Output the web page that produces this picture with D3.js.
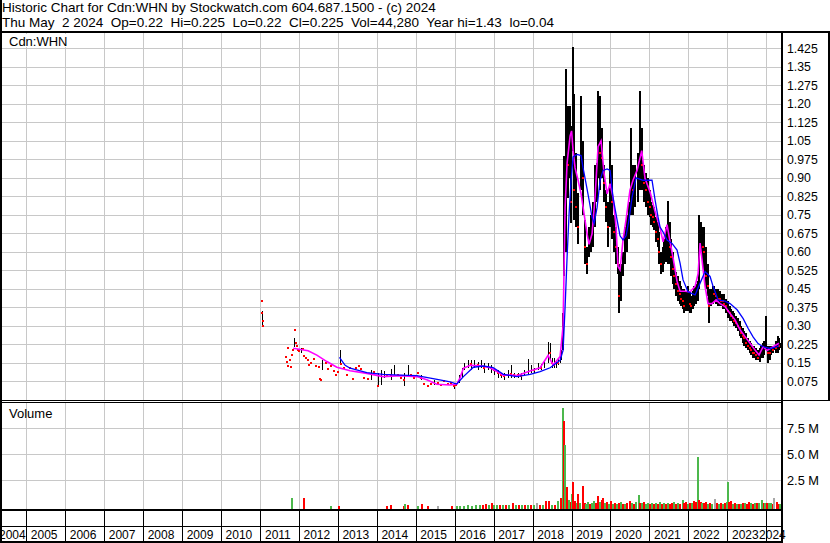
<!DOCTYPE html>
<html><head><meta charset="utf-8">
<script src="https://cdn.jsdelivr.net/npm/d3@7"></script>
<style>
body{margin:0;background:#fff}
svg{display:block;font-family:"Liberation Sans",Arial,sans-serif}
</style>
</head><body>
<svg id="c" width="830" height="543"></svg>
<script>
// ---------------- DATA ----------------
const headerLines = [
  "Historic Chart for Cdn:WHN by Stockwatch.com 604.687.1500 - (c) 2024",
  "Thu May  2 2024  Op=0.22  Hi=0.225  Lo=0.22  Cl=0.225  Vol=44,280  Year hi=1.43  lo=0.04"
];
const symbolLabel = "Cdn:WHN";
const volumeLabel = "Volume";
const priceTicks = [1.425,1.35,1.275,1.20,1.125,1.05,0.975,0.90,0.825,0.75,0.675,0.60,0.525,0.45,0.375,0.30,0.225,0.15,0.075];
const priceTickLabels = ["1.425","1.35","1.275","1.20","1.125","1.05","0.975","0.90","0.825","0.75","0.675","0.60","0.525","0.45","0.375","0.30","0.225","0.15","0.075"];
const volTicks = [7.5,5.0,2.5];
const volTickLabels = ["7.5 M","5.0 M","2.5 M"];
const yearLabels = [2004,2005,2006,2007,2008,2009,2010,2011,2012,2013,2014,2015,2016,2017,2018,2019,2020,2021,2022,2023,2024];

// price bars: [decimal year, high, low, close]
const priceBars = [
[2011.03,0.40,0.40,0.40],[2011.04,0.36,0.30,0.35],[2011.05,0.32,0.32,0.32],[2011.06,0.30,0.30,0.30],
[2011.648,0.175,0.175,0.175],[2011.674,0.155,0.155,0.155],[2011.687,0.21,0.21,0.21],[2011.70,0.137,0.137,0.137],
[2011.75,0.162,0.162,0.162],[2011.776,0.134,0.134,0.134],[2011.795,0.181,0.181,0.181],[2011.82,0.20,0.20,0.20],
[2011.861,0.25,0.215,0.23],[2011.887,0.283,0.283,0.283],[2011.905,0.229,0.229,0.229],[2011.93,0.22,0.22,0.22],
[2011.948,0.202,0.202,0.202],[2011.99,0.199,0.199,0.199],
[2012.033,0.21,0.19,0.20],[2012.084,0.205,0.205,0.205],[2012.11,0.178,0.178,0.178],[2012.161,0.17,0.17,0.17],
[2012.205,0.16,0.16,0.16],[2012.238,0.14,0.14,0.14],[2012.29,0.15,0.15,0.15],[2012.367,0.165,0.165,0.165],
[2012.418,0.137,0.137,0.137],[2012.495,0.132,0.132,0.132],[2012.52,0.084,0.084,0.084],[2012.546,0.08,0.08,0.08],
[2012.572,0.16,0.12,0.13],[2012.675,0.148,0.148,0.148],[2012.726,0.124,0.124,0.124],[2012.803,0.137,0.137,0.137],
[2012.88,0.118,0.118,0.118],[2012.931,0.10,0.10,0.10],[2012.983,0.113,0.113,0.113],
[2013.042,0.20,0.148,0.16],[2013.06,0.145,0.145,0.145],[2013.137,0.13,0.13,0.13],[2013.214,0.10,0.10,0.10],
[2013.283,0.128,0.128,0.128],[2013.36,0.083,0.083,0.083],[2013.445,0.128,0.128,0.128],[2013.522,0.137,0.137,0.137],
[2013.573,0.124,0.124,0.124],[2013.65,0.09,0.09,0.09],[2013.745,0.083,0.083,0.083],[2013.83,0.12,0.08,0.10],
[2013.906,0.113,0.113,0.113],[2014.0,0.11,0.055,0.056],
[2014.086,0.12,0.06,0.09],[2014.163,0.118,0.09,0.118],[2014.24,0.10,0.10,0.10],[2014.343,0.125,0.08,0.10],
[2014.42,0.14,0.10,0.12],[2014.515,0.10,0.10,0.10],[2014.6,0.09,0.09,0.09],[2014.677,0.11,0.055,0.08],
[2014.772,0.141,0.10,0.132],[2014.856,0.10,0.10,0.10],[2014.933,0.088,0.088,0.088],
[2015.028,0.107,0.107,0.107],[2015.113,0.10,0.08,0.09],[2015.19,0.065,0.065,0.065],[2015.285,0.056,0.056,0.056],
[2015.37,0.065,0.065,0.065],[2015.447,0.08,0.06,0.07],[2015.541,0.07,0.07,0.07],[2015.626,0.06,0.06,0.06],
[2015.703,0.075,0.075,0.075],[2015.798,0.065,0.065,0.065],[2015.883,0.07,0.07,0.07],[2015.96,0.07,0.045,0.055],
[2016.01,0.06,0.06,0.06],
[2016.088,0.10,0.07,0.09],[2016.165,0.13,0.09,0.12],[2016.224,0.15,0.12,0.14],[2016.31,0.16,0.13,0.155],
[2016.396,0.16,0.12,0.145],[2016.473,0.16,0.13,0.15],[2016.568,0.155,0.12,0.14],[2016.653,0.16,0.13,0.15],
[2016.73,0.15,0.11,0.13],[2016.825,0.15,0.12,0.14],[2016.91,0.14,0.11,0.13],[2016.987,0.13,0.10,0.12],
[2017.082,0.12,0.09,0.11],[2017.166,0.11,0.09,0.10],[2017.243,0.11,0.08,0.095],[2017.338,0.12,0.09,0.11],
[2017.423,0.14,0.09,0.105],[2017.5,0.11,0.09,0.10],[2017.595,0.11,0.09,0.10],[2017.68,0.11,0.08,0.095],
[2017.757,0.12,0.10,0.11],[2017.852,0.164,0.10,0.12],[2017.937,0.14,0.11,0.125],[2018.013,0.13,0.11,0.12],
[2018.108,0.15,0.12,0.14],[2018.193,0.145,0.12,0.13],[2018.27,0.16,0.13,0.15],[2018.365,0.235,0.15,0.20],
[2018.424,0.23,0.16,0.19],[2018.476,0.17,0.13,0.15],[2018.527,0.17,0.13,0.14],[2018.578,0.16,0.13,0.15],
[2018.63,0.17,0.14,0.15],[2018.68,0.20,0.15,0.17],[2018.706,0.20,0.16,0.18],[2018.758,0.35,0.20,0.30],
[2018.791,0.99,0.50,0.92],[2018.835,1.34,0.60,1.00],[2018.886,1.19,0.82,0.95],[2018.937,1.19,0.90,1.10],
[2018.963,1.11,0.715,0.80],[2019.006,1.43,1.01,1.15],[2019.04,1.24,0.73,0.85],[2019.091,1.00,0.70,0.78],
[2019.142,0.84,0.63,0.70],[2019.22,1.23,0.85,1.05],[2019.27,1.05,0.75,0.90],[2019.322,0.73,0.55,0.62],
[2019.373,0.62,0.51,0.55],[2019.425,0.70,0.58,0.62],[2019.476,0.75,0.60,0.68],[2019.527,0.80,0.62,0.72],
[2019.58,0.95,0.70,0.85],[2019.63,0.96,0.80,0.90],[2019.656,1.25,0.90,1.10],[2019.707,1.23,0.85,1.00],
[2019.758,1.10,0.90,0.98],[2019.81,0.95,0.80,0.88],[2019.861,0.85,0.72,0.78],[2019.913,0.80,0.62,0.70],
[2019.964,1.05,0.70,0.90],[2020.015,0.95,0.65,0.80],[2020.066,0.75,0.60,0.68],[2020.117,0.70,0.55,0.62],
[2020.168,0.62,0.51,0.55],[2020.194,0.55,0.35,0.42],[2020.245,0.55,0.40,0.50],[2020.297,0.60,0.50,0.55],
[2020.348,0.70,0.55,0.65],[2020.40,0.75,0.60,0.70],[2020.45,0.80,0.65,0.75],[2020.50,1.10,0.75,0.90],
[2020.553,0.95,0.75,0.85],[2020.605,0.95,0.78,0.88],[2020.682,1.00,0.80,0.92],[2020.733,1.25,0.85,1.05],
[2020.784,1.10,0.85,0.95],[2020.836,0.95,0.80,0.88],[2020.887,0.92,0.78,0.85],[2020.938,0.90,0.75,0.80],
[2020.978,0.85,0.74,0.78],[2021.015,0.80,0.71,0.75],[2021.055,0.79,0.70,0.74],[2021.093,0.78,0.69,0.72],
[2021.145,0.74,0.64,0.68],[2021.188,0.72,0.62,0.65],[2021.222,0.68,0.55,0.60],[2021.273,0.60,0.51,0.55],
[2021.312,0.62,0.52,0.57],[2021.35,0.65,0.55,0.60],[2021.401,0.70,0.56,0.63],[2021.445,0.805,0.55,0.70],
[2021.491,0.72,0.55,0.62],[2021.53,0.65,0.50,0.58],[2021.568,0.60,0.47,0.53],[2021.607,0.55,0.45,0.50],
[2021.658,0.52,0.42,0.47],[2021.70,0.50,0.40,0.44],[2021.748,0.48,0.39,0.43],[2021.786,0.46,0.38,0.41],
[2021.825,0.45,0.37,0.40],[2021.863,0.45,0.35,0.38],[2021.915,0.44,0.36,0.40],[2021.958,0.46,0.36,0.42],
[2022.005,0.44,0.35,0.39],[2022.043,0.42,0.35,0.38],[2022.082,0.44,0.37,0.40],[2022.12,0.46,0.38,0.42],
[2022.172,0.47,0.39,0.43],[2022.215,0.48,0.40,0.44],[2022.248,0.75,0.45,0.65],[2022.30,0.72,0.60,0.66],
[2022.338,0.70,0.55,0.62],[2022.377,0.70,0.52,0.60],[2022.428,0.62,0.45,0.50],[2022.472,0.55,0.42,0.46],
[2022.505,0.45,0.31,0.38],[2022.556,0.45,0.38,0.42],[2022.595,0.46,0.39,0.43],[2022.633,0.46,0.40,0.43],
[2022.685,0.45,0.39,0.42],[2022.728,0.45,0.38,0.41],[2022.775,0.44,0.38,0.41],[2022.813,0.43,0.38,0.40],
[2022.852,0.43,0.37,0.40],[2022.89,0.43,0.37,0.39],[2022.941,0.41,0.35,0.38],[2022.985,0.40,0.33,0.36],
[2023.031,0.38,0.32,0.35],[2023.07,0.37,0.32,0.34],[2023.108,0.36,0.31,0.33],[2023.146,0.35,0.30,0.32],
[2023.198,0.34,0.29,0.31],[2023.241,0.33,0.28,0.30],[2023.288,0.32,0.26,0.29],[2023.326,0.30,0.25,0.27],
[2023.365,0.29,0.23,0.26],[2023.403,0.28,0.22,0.25],[2023.455,0.27,0.21,0.23],[2023.498,0.25,0.20,0.22],
[2023.545,0.24,0.19,0.21],[2023.583,0.23,0.18,0.20],[2023.622,0.22,0.17,0.19],[2023.66,0.22,0.17,0.19],
[2023.711,0.21,0.16,0.18],[2023.755,0.20,0.16,0.17],[2023.801,0.21,0.155,0.18],[2023.84,0.22,0.17,0.19],
[2023.878,0.23,0.17,0.20],[2023.925,0.24,0.18,0.21],[2023.96,0.34,0.20,0.24],[2024.012,0.22,0.15,0.19],
[2024.058,0.22,0.16,0.19],[2024.097,0.22,0.18,0.20],[2024.135,0.22,0.19,0.20],[2024.174,0.22,0.20,0.21],
[2024.225,0.24,0.19,0.21],[2024.268,0.26,0.19,0.22],[2024.302,0.25,0.20,0.22],[2024.327,0.23,0.21,0.225]
];

// short moving average (magenta): [decimal year, value]
const maShort = [
[2011.853,0.209],[2012.238,0.199],[2012.461,0.181],[2012.718,0.155],[2012.975,0.132],[2013.316,0.118],
[2013.745,0.107],[2014.163,0.094],[2014.60,0.098],[2015.028,0.094],[2015.285,0.081],[2015.541,0.063],
[2015.883,0.06],[2016.054,0.064],[2016.14,0.09],[2016.224,0.128],[2016.396,0.14],[2016.653,0.138],
[2016.91,0.13],[2017.082,0.115],[2017.243,0.10],[2017.423,0.10],[2017.603,0.098],[2017.808,0.11],
[2017.988,0.12],[2018.193,0.13],[2018.398,0.18],[2018.527,0.141],[2018.706,0.175],[2018.783,0.30],
[2018.835,0.78],[2018.886,0.96],[2018.963,1.07],[2019.001,1.09],[2019.04,1.01],[2019.091,0.94],
[2019.168,0.89],[2019.245,0.835],[2019.322,0.754],[2019.399,0.673],[2019.45,0.63],[2019.527,0.673],
[2019.604,0.823],[2019.681,1.026],[2019.758,1.05],[2019.835,0.918],[2019.913,0.835],[2019.99,0.876],
[2020.066,0.82],[2020.143,0.70],[2020.194,0.54],[2020.245,0.527],[2020.322,0.648],[2020.40,0.73],
[2020.50,0.85],[2020.579,0.89],[2020.682,0.93],[2020.802,1.01],[2020.887,0.897],[2021.015,0.843],
[2021.145,0.762],[2021.273,0.695],[2021.35,0.64],[2021.452,0.71],[2021.53,0.64],[2021.607,0.575],
[2021.709,0.48],[2021.786,0.44],[2021.915,0.44],[2022.043,0.437],[2022.172,0.46],[2022.248,0.51],
[2022.30,0.635],[2022.35,0.567],[2022.428,0.46],[2022.505,0.39],[2022.607,0.39],[2022.71,0.405],
[2022.813,0.39],[2022.941,0.378],[2023.07,0.35],[2023.198,0.324],[2023.326,0.284],[2023.455,0.256],
[2023.583,0.229],[2023.711,0.202],[2023.814,0.182],[2023.917,0.215],[2024.02,0.20],[2024.122,0.21],
[2024.225,0.22],[2024.327,0.229]
];

// long moving average (blue): [decimal year, value]
const maLong = [
[2013.042,0.172],[2013.188,0.14],[2013.316,0.128],[2013.745,0.11],[2014.163,0.103],[2014.60,0.10],
[2015.028,0.098],[2015.549,0.083],[2015.883,0.073],[2016.054,0.064],[2016.224,0.094],[2016.481,0.132],
[2016.738,0.137],[2016.987,0.13],[2017.251,0.103],[2017.595,0.094],[2017.937,0.103],[2018.193,0.114],
[2018.45,0.13],[2018.706,0.16],[2018.783,0.20],[2018.835,0.377],[2018.886,0.58],[2018.937,0.754],
[2018.988,0.89],[2019.04,0.985],[2019.142,0.995],[2019.245,0.99],[2019.296,0.94],[2019.373,0.876],
[2019.45,0.81],[2019.527,0.74],[2019.58,0.715],[2019.656,0.78],[2019.733,0.89],[2019.81,0.93],
[2019.913,0.936],[2019.99,0.93],[2020.066,0.82],[2020.168,0.73],[2020.245,0.665],[2020.322,0.648],
[2020.40,0.665],[2020.476,0.73],[2020.553,0.82],[2020.656,0.90],[2020.836,0.89],[2021.066,0.89],
[2021.145,0.81],[2021.222,0.74],[2021.273,0.70],[2021.35,0.68],[2021.452,0.648],[2021.58,0.634],
[2021.709,0.607],[2021.786,0.554],[2021.863,0.486],[2021.99,0.438],[2022.172,0.425],[2022.30,0.473],
[2022.428,0.52],[2022.556,0.50],[2022.633,0.46],[2022.762,0.405],[2022.941,0.40],[2023.07,0.39],
[2023.25,0.365],[2023.403,0.33],[2023.532,0.29],[2023.66,0.255],[2023.788,0.228],[2023.917,0.215],
[2024.097,0.208],[2024.276,0.215],[2024.327,0.22]
];

// volume bars: [decimal year, millions, colour code g=up r=down k=unchanged]
const volumeBars = [
[2011.82,0.83,"g"],[2012.128,0.83,"r"],[2012.82,0.05,"g"],[2013.042,0.05,"r"],[2014.258,0.05,"r"],
[2014.361,0.10,"r"],[2014.694,0.06,"r"],[2014.728,0.22,"g"],[2014.813,0.08,"r"],[2015.054,0.06,"g"],
[2015.156,0.22,"r"],[2015.326,0.05,"r"],[2015.583,0.05,"k"],[2015.926,0.05,"r"],[2016.054,0.05,"g"],
[2016.14,0.05,"g"],[2016.242,0.05,"g"],[2016.353,0.10,"g"],[2016.448,0.05,"g"],[2016.55,0.08,"g"],
[2016.653,0.08,"g"],[2016.717,0.12,"r"],[2016.807,0.22,"r"],[2016.87,0.12,"g"],[2016.953,0.29,"r"],
[2017.012,0.10,"g"],[2017.09,0.10,"g"],[2017.166,0.08,"r"],[2017.243,0.12,"g"],[2017.32,0.10,"r"],
[2017.397,0.12,"g"],[2017.508,0.29,"r"],[2017.577,0.12,"g"],[2017.654,0.10,"r"],[2017.731,0.10,"g"],
[2017.808,0.12,"r"],[2017.885,0.10,"g"],[2017.962,0.12,"r"],[2018.039,0.10,"g"],[2018.124,0.35,"k"],
[2018.193,0.10,"r"],[2018.27,0.12,"g"],[2018.347,0.50,"r"],[2018.424,0.50,"r"],[2018.501,0.12,"g"],
[2018.578,0.10,"r"],[2018.664,0.50,"g"],[2018.724,0.77,"r"],[2018.776,1.90,"k"],[2018.791,9.48,"g"],
[2018.805,8.20,"r"],[2018.835,5.90,"g"],[2018.878,1.90,"r"],[2018.937,0.60,"g"],[2018.988,0.40,"r"],
[2019.014,1.15,"g"],[2019.032,2.30,"r"],[2019.091,0.50,"r"],[2019.129,0.30,"g"],[2019.176,1.18,"r"],
[2019.22,0.30,"g"],[2019.289,1.95,"r"],[2019.335,0.30,"r"],[2019.373,0.20,"g"],[2019.425,0.40,"g"],
[2019.476,0.25,"r"],[2019.527,0.30,"g"],[2019.58,0.50,"g"],[2019.63,0.30,"r"],[2019.689,0.99,"r"],
[2019.733,0.40,"g"],[2019.776,0.60,"r"],[2019.818,0.77,"r"],[2019.861,0.30,"g"],[2019.913,0.40,"r"],
[2019.964,0.25,"g"],[2020.015,0.50,"r"],[2020.066,0.25,"g"],[2020.117,0.35,"r"],[2020.168,0.20,"g"],
[2020.22,0.30,"r"],[2020.27,0.45,"g"],[2020.322,0.25,"r"],[2020.374,0.20,"g"],[2020.425,0.30,"r"],
[2020.50,0.50,"r"],[2020.553,0.30,"g"],[2020.605,0.20,"r"],[2020.656,0.40,"g"],[2020.725,1.09,"g"],
[2020.76,0.35,"r"],[2020.81,0.30,"g"],[2020.862,0.40,"r"],[2020.913,0.25,"g"],[2020.964,0.35,"g"],
[2021.015,0.20,"r"],[2021.066,0.30,"g"],[2021.118,0.25,"r"],[2021.17,0.35,"g"],[2021.222,0.20,"r"],
[2021.273,0.40,"g"],[2021.324,0.25,"r"],[2021.376,0.30,"g"],[2021.427,0.20,"r"],[2021.478,0.30,"g"],
[2021.53,0.25,"r"],[2021.58,0.30,"r"],[2021.632,0.40,"g"],[2021.684,0.25,"r"],[2021.735,0.30,"g"],
[2021.786,0.20,"r"],[2021.855,0.60,"g"],[2021.889,0.30,"r"],[2021.94,0.40,"r"],[2021.99,0.25,"g"],
[2022.043,0.35,"r"],[2022.094,0.30,"g"],[2022.145,0.50,"r"],[2022.197,0.40,"r"],[2022.24,4.74,"g"],
[2022.268,0.60,"r"],[2022.312,0.45,"r"],[2022.35,0.35,"g"],[2022.402,0.30,"r"],[2022.454,0.40,"r"],
[2022.505,0.25,"g"],[2022.556,0.30,"r"],[2022.607,0.25,"g"],[2022.684,0.67,"k"],[2022.736,0.30,"r"],
[2022.787,0.25,"g"],[2022.838,0.30,"r"],[2022.89,0.20,"g"],[2022.941,0.30,"r"],[2022.985,0.40,"g"],
[2023.01,2.37,"g"],[2023.052,0.44,"r"],[2023.095,0.50,"r"],[2023.146,0.25,"g"],[2023.198,0.30,"r"],
[2023.25,0.20,"g"],[2023.30,0.25,"r"],[2023.352,0.20,"g"],[2023.403,0.35,"r"],[2023.455,0.30,"g"],
[2023.506,0.25,"r"],[2023.565,0.44,"r"],[2023.608,0.30,"g"],[2023.66,0.25,"r"],[2023.711,0.30,"g"],
[2023.762,0.35,"r"],[2023.814,0.30,"g"],[2023.883,0.60,"g"],[2023.93,0.35,"r"],[2023.968,0.30,"g"],
[2024.02,0.35,"r"],[2024.07,0.30,"g"],[2024.122,0.30,"g"],[2024.16,0.25,"r"],[2024.199,0.77,"k"],
[2024.268,0.40,"r"],[2024.315,0.25,"r"],[2024.353,0.20,"g"]
];

// ---------------- DRAW ----------------
const W = 830, H = 543;
const svg = d3.select("#c");
const axisX = 781.5;           // right axis line
const priceTop = 33, priceBottom = 400;
const volTop = 402.5, volBottom = 509;

const x = d3.scaleLinear().domain([2005, 2024]).range([26.2, 766.3]);
const y = d3.scaleLinear().domain([0, 1.425]).range([399.8, 48.3]);
const vy = d3.scaleLinear().domain([0, 10]).range([506.3, 402.3]);
const volColor = {g:"#4cb84c", r:"#ff0000", k:"#a8a8a8"};
const grid = "#c8c8c8";
const snap = v => Math.round(v) + 0.5;

// header
headerLines.forEach((t,i) => {
  svg.append("text").attr("x", 2).attr("y", i === 0 ? 12.3 : 26.5)
    .attr("font-size", "13.5px").attr("fill", "#000")
    .style("white-space", "pre").text(t);
});

// clip paths
svg.append("clipPath").attr("id","pc").append("rect")
  .attr("x", 2).attr("y", priceTop).attr("width", axisX - 2.5).attr("height", priceBottom - priceTop);
svg.append("clipPath").attr("id","vc").append("rect")
  .attr("x", 2).attr("y", volTop).attr("width", axisX - 2.5).attr("height", volBottom - volTop);

const boundaryYears = yearLabels.filter(d => d >= 2005);

// price grid
const pg = svg.append("g").attr("clip-path","url(#pc)");
pg.selectAll("line.h").data(priceTicks).join("line")
  .attr("x1", 2).attr("x2", axisX).attr("y1", d => snap(y(d))).attr("y2", d => snap(y(d)))
  .attr("stroke", grid).attr("stroke-width", 1);
pg.selectAll("line.v").data(boundaryYears).join("line")
  .attr("x1", d => snap(x(d))).attr("x2", d => snap(x(d))).attr("y1", priceTop).attr("y2", priceBottom)
  .attr("stroke", grid).attr("stroke-width", 1);

// volume grid
const vg = svg.append("g").attr("clip-path","url(#vc)");
vg.selectAll("line.h").data(volTicks).join("line")
  .attr("x1", 2).attr("x2", axisX).attr("y1", d => snap(vy(d))).attr("y2", d => snap(vy(d)))
  .attr("stroke", grid);
vg.selectAll("line.v").data(boundaryYears).join("line")
  .attr("x1", d => snap(x(d))).attr("x2", d => snap(x(d))).attr("y1", volTop).attr("y2", volBottom)
  .attr("stroke", grid);

// symbol label with white backing
svg.append("rect").attr("x", 3).attr("y", 34).attr("width", 68).attr("height", 13).attr("fill", "#fff");
svg.append("text").attr("x", 9).attr("y", 46).attr("font-size", "13px").text(symbolLabel);
svg.append("text").attr("x", 9).attr("y", 418).attr("font-size", "13px").text(volumeLabel);

// price bars (thin where trading is sparse, heavier where daily bars merge)
const bars = pg.append("g").attr("shape-rendering","crispEdges");
bars.selectAll("line").data(priceBars.filter(d => d[1] > d[2])).join("line")
  .attr("x1", d => Math.round(x(d[0])) + 1).attr("x2", d => Math.round(x(d[0])) + 1)
  .attr("y1", d => y(d[1])).attr("y2", d => y(d[2]))
  .attr("stroke", "#000").attr("stroke-width", d => d[0] < 2018.75 ? 1 : 2);
// red close marks: on non-rising closes or on single-price days
const redMarks = priceBars.filter((d,i) => d[1] === d[2] || i === 0 || d[3] <= priceBars[i-1][3]);
bars.selectAll("rect").data(redMarks).join("rect")
  .attr("x", d => Math.round(x(d[0]))).attr("y", d => Math.round(y(d[3])) - 1)
  .attr("width", 2).attr("height", 2).attr("fill", "#ff0000");

// moving averages
const line = d3.line().x(d => x(d[0])).y(d => y(d[1]));
pg.append("path").datum(maShort).attr("d", line).attr("fill","none")
  .attr("stroke", "#ff00ff").attr("stroke-width", 1.6);
pg.append("path").datum(maLong).attr("d", line).attr("fill","none")
  .attr("stroke", "#0000ff").attr("stroke-width", 1.3);

// volume bars
vg.append("g").attr("shape-rendering","crispEdges")
  .selectAll("rect").data(volumeBars).join("rect")
  .attr("x", d => Math.round(x(d[0])) - 1).attr("width", 2)
  .attr("y", d => Math.min(vy(d[1]), volBottom - 2))
  .attr("height", d => volBottom - Math.min(vy(d[1]), volBottom - 2))
  .attr("fill", d => volColor[d[2]]);

// frame lines
const frame = svg.append("g").attr("stroke", "#000").attr("shape-rendering","crispEdges");
frame.append("line").attr("x1",0).attr("x2",W).attr("y1",32).attr("y2",32).attr("stroke-width",2);
frame.append("line").attr("x1",1).attr("x2",1).attr("y1",0).attr("y2",H).attr("stroke-width",2);
frame.append("line").attr("x1",829).attr("x2",829).attr("y1",32).attr("y2",401).attr("stroke-width",2);
frame.append("line").attr("x1",0).attr("x2",W).attr("y1",400.5).attr("y2",400.5).attr("stroke-width",1);
frame.append("line").attr("x1",0).attr("x2",axisX).attr("y1",402.5).attr("y2",402.5).attr("stroke-width",1);
frame.append("line").attr("x1",0).attr("x2",axisX+1).attr("y1",510).attr("y2",510).attr("stroke-width",2);
frame.append("line").attr("x1",0).attr("x2",axisX+1).attr("y1",526.5).attr("y2",526.5).attr("stroke-width",1.5);
frame.append("line").attr("x1",0).attr("x2",axisX+1).attr("y1",541.5).attr("y2",541.5).attr("stroke-width",2);

// year boundary ticks in the bottom rows
frame.selectAll("line.yb").data(boundaryYears).join("line")
  .attr("x1", d => snap(x(d))).attr("x2", d => snap(x(d)))
  .attr("y1", 510).attr("y2", 541).attr("stroke-width", 1.5);

// year labels
svg.selectAll("text.yr").data(yearLabels).join("text")
  .attr("class","yr").attr("font-size","12px").attr("y", 539).text(d => d)
  .each(function(d){
    const a = x(d), b = d === 2024 ? axisX : x(d + 1);
    const w = this.getComputedTextLength();
    let left = (a + b) / 2 - 1.5 - w / 2;
    if (left < -1) left = -1;
    d3.select(this).attr("x", left);
  });

// right axis line drawn over labels
svg.append("line").attr("x1",axisX).attr("x2",axisX).attr("y1",32).attr("y2",542)
  .attr("stroke","#000").attr("stroke-width",2).attr("shape-rendering","crispEdges");

// price tick labels
svg.selectAll("text.pt").data(priceTicks).join("text")
  .attr("class","pt").attr("x", 787).attr("y", d => y(d) + 4.5)
  .attr("font-size","12.3px").attr("fill","#000")
  .text((d,i) => priceTickLabels[i]);

// volume tick labels
svg.selectAll("text.vt").data(volTicks).join("text")
  .attr("class","vt").attr("x", 787).attr("y", d => vy(d) + 4.5)
  .attr("font-size","12.8px").attr("fill","#000")
  .text((d,i) => volTickLabels[i]);
</script>
</body></html>
